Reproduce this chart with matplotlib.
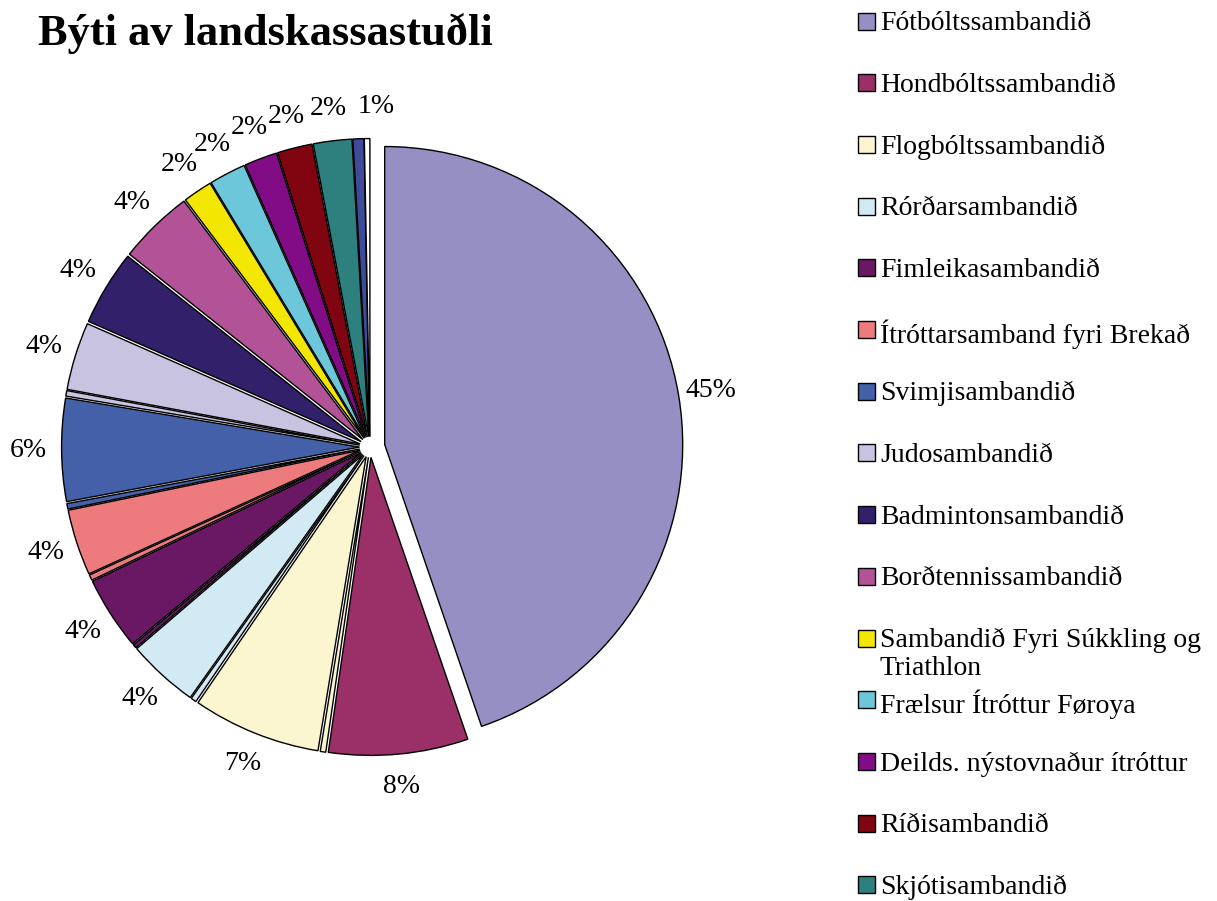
import matplotlib.pyplot as plt
from matplotlib.patches import Rectangle

plt.rcParams['font.family'] = ['Liberation Serif', 'DejaVu Serif']

title = 'Býti av landskassastuðli'

legend_names = [
    'Fótbóltssambandið',
    'Hondbóltssambandið',
    'Flogbóltssambandið',
    'Rórðarsambandið',
    'Fimleikasambandið',
    'Ítróttarsamband fyri Brekað',
    'Svimjisambandið',
    'Judosambandið',
    'Badmintonsambandið',
    'Borðtennissambandið',
    'Sambandið Fyri Súkkling og\nTriathlon',
    'Frælsur Ítróttur Føroya',
    'Deilds. nýstovnaður ítróttur',
    'Ríðisambandið',
    'Skjótisambandið',
]
legend_colors = [
    '#968fc4', '#9b3068', '#fcf6d0', '#d2eaf3', '#6a1863',
    '#ed7a7d', '#4360a8', '#c8c3e0', '#33206a', '#b15396',
    '#f3e600', '#6cc7da', '#820c85', '#800510', '#2e807e',
]

# wedges clockwise from the top, thin slivers included
values = [45.0, 7.6, 0.3, 7.0, 0.3, 3.9, 0.2, 4.0, 0.3, 3.6, 0.3, 5.6,
          0.3, 3.7, 4.1, 4.1, 1.6, 2.0, 1.8, 1.9, 2.1, 0.6, 0.3]
colors = ['#968fc4', '#9b3068', '#fcf6d0', '#fcf6d0', '#d2eaf3', '#d2eaf3',
          '#6a1863', '#6a1863', '#ed7a7d', '#ed7a7d', '#4360a8', '#4360a8',
          '#c8c3e0', '#c8c3e0', '#33206a', '#b15396', '#f3e600', '#6cc7da',
          '#820c85', '#800510', '#2e807e', '#3e4a9a', '#ffffff']

W, H = 1217, 901
fig = plt.figure(figsize=(W / 100, H / 100), dpi=100)

# pie axes: centre at (370, 447) px, 298 px per unit
scale = 298
ax = fig.add_axes([0, 0, 740 / W, 1])
explode = [0.05] + [0.035] * (len(values) - 1)
wedges, texts, autotexts = ax.pie(
    values, colors=colors, explode=explode, startangle=90, counterclock=False,
    autopct=lambda p: f'{p:.0f}%' if p >= 0.5 else '', pctdistance=1.11,
    wedgeprops=dict(edgecolor='black', linewidth=1.0),
    textprops=dict(fontsize=20))
ax.set_xlim(-370 / scale, 370 / scale)
ax.set_ylim(-(H - 447) / scale, 447 / scale)
# the 1% label sits to the right of its neighbour, as in the original
autotexts[21].set_ha('left')

fig.text(38 / W, 1 - 13 / H, title, fontsize=32, fontweight='bold', va='top')

# legend drawn row by row so the wrapped label does not push the rest down
step = 61.7
for i, (name, c) in enumerate(zip(legend_names, legend_colors)):
    yc = 21 + i * step
    fig.patches.append(Rectangle((858 / W, 1 - (yc + 8.5) / H), 17 / W, 17 / H,
                                 transform=fig.transFigure, facecolor=c,
                                 edgecolor='black', linewidth=1.0))
    fig.text(880 / W, 1 - (yc - 10) / H, name, fontsize=20, va='top',
             linespacing=1.12)

fig.savefig('out.png', dpi=100)
